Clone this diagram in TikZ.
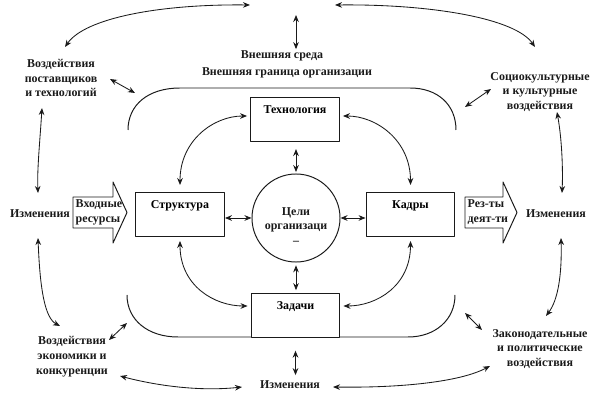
\documentclass[tikz,border=0pt]{standalone}
\usepackage{fontspec}
\setmainfont{Liberation Serif}
\usepackage{tikz}
\usetikzlibrary{calc,arrows.meta,positioning}
\definecolor{ink}{HTML}{1A1A1A}
\definecolor{paper}{HTML}{FFFFFF}
\newcommand{\lblfont}{\fontsize{8.5}{10.6}\selectfont\bfseries}
\tikzset{
  base/.style={draw=ink, line width=0.7pt, line join=round},
  dbl/.style={draw=ink, line width=0.6pt, {Stealth[length=5pt,width=4pt]}-{Stealth[length=5pt,width=4pt]}},
  box/.style={base, fill=paper, rectangle, anchor=north, minimum width=2.22cm, inner xsep=2pt, inner ysep=5pt, text height=6.3pt, text depth=15pt, font=\lblfont},
  goalc/.style={base, circle, minimum size=2.2cm, inner sep=0pt},
  lab/.style={text=ink, font=\lblfont, align=center, inner sep=1pt},
  labl/.style={lab, align=left, anchor=west},
  blk/.style={base, fill=paper},
}

\begin{document}
\begin{tikzpicture}[x=0.025cm,y=-0.025cm]
  \useasboundingbox (0,0) rectangle (600,400);
  % organization boundary, open at both sides
  \draw[base] (128,130) .. controls (128,105) and (148,88) .. (180,88) -- (410,88)
    .. controls (438,88) and (456,105) .. (456,130);
  \draw[base] (127,295) .. controls (127,320) and (148,337) .. (178,337) -- (408,337)
    .. controls (435,337) and (455,320) .. (455,295);
  % inner parts
  \node[box] (tech) at (295,97) {Технология};
  \node[box] (str) at (180,192) {Структура};
  \node[box] (kad) at (410.5,192) {Кадры};
  \node[box] (zad) at (295.5,293) {Задачи};
  \node[goalc] (goal) at (296,218) {};
  \node[lab] (goaltxt) at (296,226) {Цели\\организаци\\–};
  % input / output
  \draw[blk] (73,197) -- (113,197) -- (113,182) -- (127,212.5) -- (113,243) -- (113,228) -- (73,228) -- cycle;
  \node[labl] (inp) at (74,212.5) {Входные\\ресурсы};
  \draw[blk] (465,197) -- (503,197) -- (503,182) -- (517,212.5) -- (503,243) -- (503,228) -- (465,228) -- cycle;
  \node[labl] (outp) at (466,212.5) {Рез-ты\\деят-ти};
  % outside texts
  \node[lab] (env) at (282,56) {Внешняя среда};
  \node[lab] (bnd) at (287,73) {Внешняя граница организации};
  \node[lab] (tin) at (61,78) {Воздействия\\поставщиков\\и технологий};
  \node[lab] (soc) at (540,92) {Социокультурные\\и культурные\\воздействия};
  \node[lab] (eco) at (72,357) {Воздействия\\экономики и\\конкуренции};
  \node[lab] (law) at (540,349) {Законодательные\\и политические\\воздействия};
  \node[lab] (izmL) at (40,214) {Изменения};
  \node[lab] (izmR) at (556,214) {Изменения};
  \node[lab] (izmB) at (290,385) {Изменения};
  % free ends
  \coordinate (tl1) at (250,5);   \coordinate (tl2) at (65,47);
  \coordinate (tr1) at (335,5);   \coordinate (tr2) at (535,47);
  \coordinate (top) at (296,15);
  \coordinate (lu1) at (42,108);  \coordinate (lu2) at (38,193);
  \coordinate (ll1) at (38,238);  \coordinate (ll2) at (60,326);
  \coordinate (ru1) at (557,112); \coordinate (ru2) at (562,193);
  \coordinate (rl1) at (561,238); \coordinate (rl2) at (546,316);
  \coordinate (bl1) at (120,376); \coordinate (bl2) at (242,387);
  \coordinate (br1) at (333,387); \coordinate (br2) at (490,366);
  \coordinate (dtl1) at (110,79); \coordinate (dtl2) at (135,93);
  \coordinate (dtr1) at (465,107); \coordinate (dtr2) at (491,89);
  \coordinate (dbl1) at (109,340); \coordinate (dbl2) at (127,323);
  \coordinate (dbr1) at (465,313); \coordinate (dbr2) at (482,330);
  % outer loop
  \draw[dbl] (tl1) .. controls (160,4) and (85,18) .. (tl2);
  \draw[dbl] (tr1) .. controls (430,4) and (515,18) .. (tr2);
  \draw[dbl] (top) -- (top |- env.north);
  \draw[dbl] (lu1) .. controls (40,140) and (37,170) .. (lu2);
  \draw[dbl] (ll1) .. controls (40,290) and (45,318) .. (ll2);
  \draw[dbl] (ru1) .. controls (562,140) and (563,170) .. (ru2);
  \draw[dbl] (rl1) .. controls (562,275) and (558,300) .. (rl2);
  \draw[dbl] (bl1) .. controls (150,384) and (195,392) .. (bl2);
  \draw[dbl] (br1) .. controls (400,388) and (460,382) .. (br2);
  \foreach \a/\b in {dtl1/dtl2,dtr1/dtr2,dbl1/dbl2,dbr1/dbr2}
    \draw[dbl] (\a) -- (\b);
  \draw[dbl, shorten <=9pt, shorten >=3pt] (zad.south) -- (zad.south |- izmB.north);
  % inner links
  \draw[dbl] (goal.west) -- (goal.west -| str.east);
  \draw[dbl] (goal.east) -- (goal.east -| kad.west);
  \draw[dbl, shorten <=1pt, shorten >=5pt] (goal.north) -- (goal.north |- tech.south);
  \draw[dbl, shorten <=2pt, shorten >=2pt] (goal.south) -- (goal.south |- zad.north);
  \draw[dbl] ($(str.north)+(0,-7)$) .. controls +(0,-45) and +(-33,0) .. ($(tech.north west)+(-3,19)$);
  \draw[dbl] ($(tech.north east)+(3,19)$) .. controls +(33,0) and +(0,-45) .. ($(kad.north)+(0,-7)$);
  \draw[dbl] ($(str.south)+(0,4)$) .. controls +(0,45) and +(-33,0) .. ($(zad.north west)+(-3,13)$);
  \draw[dbl] ($(kad.south)+(0,4)$) .. controls +(0,45) and +(33,0) .. ($(zad.north east)+(3,13)$);
\end{tikzpicture}
\end{document}
